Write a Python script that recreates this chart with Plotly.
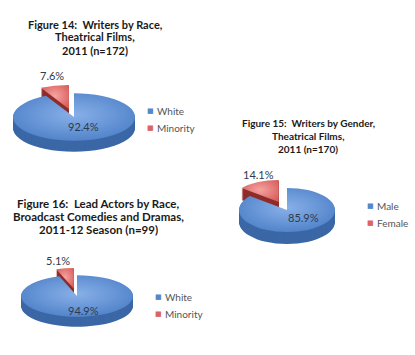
import json
import plotly.graph_objects as go

W, H = 415, 355

# ---------------- data ----------------
fig14_title = ["Figure 14:  Writers by Race,", "Theatrical Films,", "2011 (n=172)"]
fig14_labels = ["White", "Minority"]
fig14_values = [92.4, 7.6]

fig15_title = ["Figure 15:  Writers by Gender,", "Theatrical Films,", "2011 (n=170)"]
fig15_labels = ["Male", "Female"]
fig15_values = [85.9, 14.1]

fig16_title = ["Figure 16:  Lead Actors by Race,", "Broadcast Comedies and Dramas,", "2011-12 Season (n=99)"]
fig16_labels = ["White", "Minority"]
fig16_values = [94.9, 5.1]

# ---------------- style / layout ----------------
BLUE, RED = "#5587cc", "#dc6462"
BLUE_SIDE, RED_SIDE = "#3b67a6", "#8e2d2b"
COLORS = [BLUE, RED]
FONT = "Lato, 'Open Sans', sans-serif"
R0 = 40  # drawing radius before the elliptical squash

charts = [
    dict(title=fig14_title, labels=fig14_labels, values=fig14_values,
         cx=74, cy=117, rx=61, k=0.39, depth=11, pull=0.35,
         title_x=95, title_y=[24, 37, 50], title_size=11,
         label_xy=[(83, 127), (52, 76)], legend_xy=(150, 111)),
    dict(title=fig15_title, labels=fig15_labels, values=fig15_values,
         cx=287, cy=210, rx=48, k=0.46, depth=12, pull=0.40,
         title_x=308, title_y=[123, 136, 149], title_size=10,
         label_xy=[(303, 218), (258, 174)], legend_xy=(370, 206)),
    dict(title=fig16_title, labels=fig16_labels, values=fig16_values,
         cx=77, cy=296, rx=56, k=0.37, depth=10, pull=0.35,
         title_x=98, title_y=[203, 216, 229], title_size=11.5,
         label_xy=[(83, 310), (58, 260)], legend_xy=(158, 297)),
]
LEGEND_STEP = 17

fig = go.Figure()
annotations = []
params = []
for n, c in enumerate(charts):
    s = R0 * (1 + c["pull"])
    fig.add_trace(go.Pie(
        labels=c["labels"], values=c["values"], sort=False, direction="clockwise",
        rotation=0, pull=[0, c["pull"]], textinfo="none", hoverinfo="label+percent",
        marker=dict(colors=COLORS, line=dict(width=0)),
        domain=dict(x=[(c["cx"] - s) / W, (c["cx"] + s) / W],
                    y=[(H - c["cy"] - s) / H, (H - c["cy"] + s) / H]),
        showlegend=False,
    ))
    for line, ty in zip(c["title"], c["title_y"]):
        annotations.append(dict(
            text=f"<b>{line}</b>", x=c["title_x"] / W, y=1 - ty / H,
            xref="paper", yref="paper", xanchor="center", yanchor="middle",
            showarrow=False, align="center",
            font=dict(family=FONT, size=c["title_size"], color="#1a1a1a")))
    for v, (lx, ly) in zip(c["values"], c["label_xy"]):
        annotations.append(dict(
            text=f"{v}%", x=lx / W, y=1 - ly / H, xref="paper", yref="paper",
            xanchor="center", yanchor="middle", showarrow=False,
            font=dict(family=FONT, size=11, color="#2f3a4c")))
    # legend: small colour square + label for each slice
    gx, gy = c["legend_xy"]
    for i, (lab, col) in enumerate(zip(c["labels"], COLORS)):
        yy = gy + i * LEGEND_STEP
        annotations.append(dict(
            text="■", x=gx / W, y=1 - yy / H, xref="paper", yref="paper",
            xanchor="center", yanchor="middle", showarrow=False,
            font=dict(family="DejaVu Sans", size=7, color=col)))
        annotations.append(dict(
            text=lab, x=(gx + 5) / W, y=1 - yy / H, xref="paper", yref="paper",
            xanchor="left", yanchor="middle", showarrow=False,
            font=dict(family=FONT, size=10, color="#555555")))
    params.append(dict(rx=c["rx"], k=c["k"], depth=c["depth"],
                       side=[BLUE_SIDE, RED_SIDE]))

fig.update_layout(
    width=W, height=H, margin=dict(l=0, r=0, t=0, b=0, autoexpand=False), autosize=False,
    paper_bgcolor="white", plot_bgcolor="white", showlegend=False,
    annotations=annotations,
)

js = """
document.body.style.margin = '0';
document.body.style.overflow = 'hidden';
var gd = document.getElementById('{plot_id}');
var P = PARAMS;
var NS = 'http://www.w3.org/2000/svg';
var svg = gd.querySelector('svg.main-svg');
var defs = svg.querySelector('defs');
function grad(id, c0, c1) {
  var g = document.createElementNS(NS, 'radialGradient');
  g.setAttribute('id', id); g.setAttribute('cx', '50%'); g.setAttribute('cy', '45%'); g.setAttribute('r', '62%');
  [[0, c0], [1, c1]].forEach(function (s) {
    var st = document.createElementNS(NS, 'stop');
    st.setAttribute('offset', s[0]); st.setAttribute('stop-color', s[1]);
    g.appendChild(st);
  });
  defs.appendChild(g);
}
grad('faceBlue', '#88b0e8', '#4c7fc7');
grad('faceRed', '#f5a3a1', '#d85e5c');
var faces = ['url(#faceBlue)', 'url(#faceRed)'];
var groups = gd.querySelectorAll('.pielayer g.trace');
groups.forEach(function (g, i) {
  var cd0 = gd.calcdata[i][0];
  var p = P[i];
  var sx = p.rx / cd0.r, sy = sx * p.k;
  var base = 'translate(' + cd0.cx + ',' + cd0.cy + ') scale(' + sx + ',' + sy + ') translate(' + (-cd0.cx) + ',' + (-cd0.cy) + ')';
  for (var j = p.depth; j >= 1; j--) {
    var cl = g.cloneNode(true);
    cl.setAttribute('transform', 'translate(0,' + j + ') ' + base);
    cl.style.pointerEvents = 'none';
    cl.querySelectorAll('g.slice path.surface').forEach(function (path, si) {
      path.style.fill = p.side[si];
      path.style.stroke = 'none';
    });
    g.parentNode.insertBefore(cl, g);
  }
  g.setAttribute('transform', base);
  g.querySelectorAll('g.slice path.surface').forEach(function (path, si) {
    path.style.fill = faces[si];
  });
});
""".replace("PARAMS", json.dumps(params))

fig.write_html("out.html", post_script=js,
               config={"displayModeBar": False, "responsive": False})
